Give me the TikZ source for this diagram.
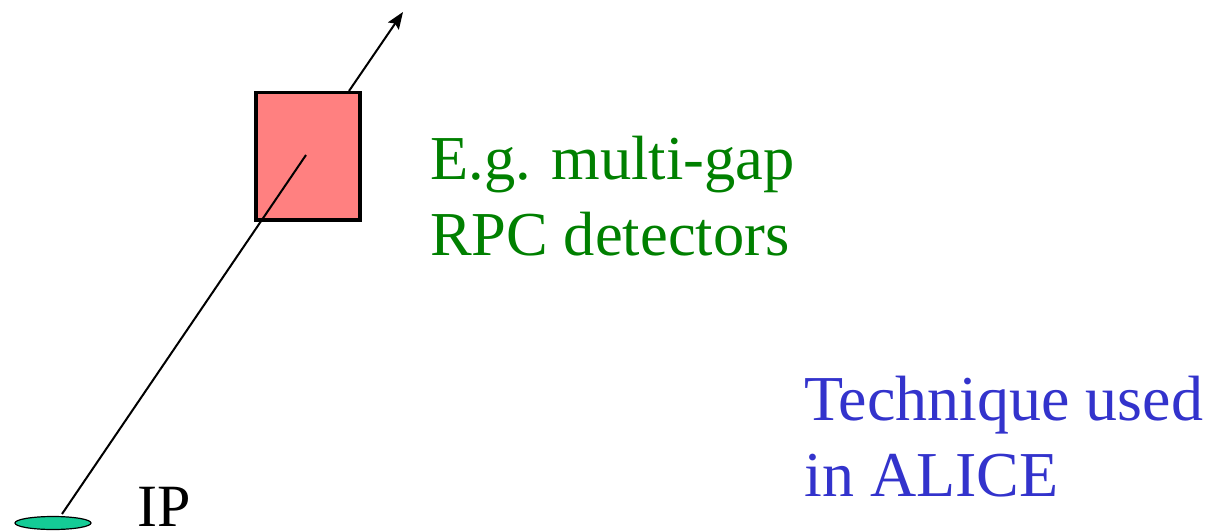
\documentclass[tikz,border=0pt]{standalone}
\usepackage{fontspec}
\setmainfont{Liberation Serif}
\usetikzlibrary{arrows.meta,shapes.geometric}
\definecolor{boxpink}{RGB}{255,128,128}
\definecolor{ipgreen}{RGB}{20,204,150}
\definecolor{txtgreen}{RGB}{0,128,0}
\definecolor{txtblue}{RGB}{51,51,204}
\tikzset{
  bigtext/.style={font=\fontsize{62.5}{76}\selectfont, inner sep=0pt, align=left},
  track/.style={line width=2pt, black},
}
\begin{document}
\begin{tikzpicture}[x=1pt,y=-1pt]
\useasboundingbox (0,0) rectangle (1214,532);
% detector box
\node[draw=black, line width=3.5pt, fill=boxpink, minimum width=104pt, minimum height=127pt, inner sep=0pt, anchor=north west] (det) at (254,91) {};
% interaction point
\node[draw=black, line width=1.2pt, fill=ipgreen, ellipse, minimum width=76pt, minimum height=13pt, inner sep=0pt] (ipell) at (53,523) {};
\coordinate (trackstart) at (62,514);
\coordinate (trackend) at (306,155);
\coordinate (exit) at (349,91);
\coordinate (tip) at (403,12);
\draw[track] (trackstart) -- (trackend);
\draw[track, -{Stealth[length=17pt,width=13pt,inset=3pt]}] (exit) -- (tip);
% labels
\node[font=\fontsize{60}{72}\selectfont, inner sep=0pt, anchor=base west] (ip) at (137,526) {IP};
\node[bigtext, text=txtgreen, anchor=base west] (eg) at (430,255) {E.g. multi-gap\\RPC detectors};
\node[bigtext, font=\fontsize{64}{76}\selectfont, text=txtblue, anchor=base west] (tech) at (804,496) {Technique used\\in ALICE};
\end{tikzpicture}
\end{document}
